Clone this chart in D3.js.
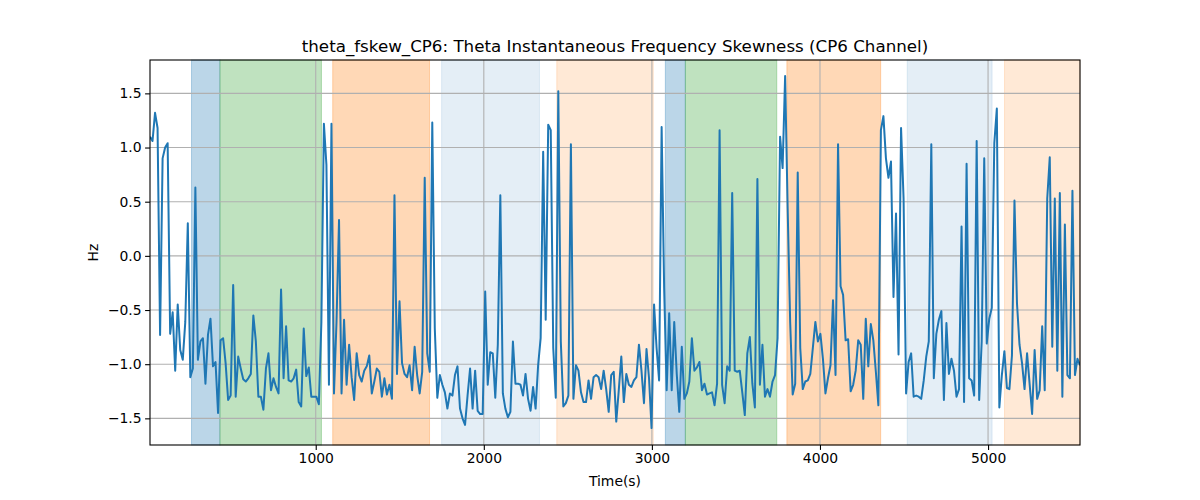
<!DOCTYPE html>
<html>
<head>
<meta charset="utf-8">
<script src="https://cdn.jsdelivr.net/npm/d3@7"></script>
<style>
  body { margin: 0; background: #fff; }
  svg { font-family: "DejaVu Sans", sans-serif; }
</style>
</head>
<body>
<svg id="chart" width="1200" height="500"></svg>
<script>
// ---- data ----
const titleText = "theta_fskew_CP6: Theta Instantaneous Frequency Skewness (CP6 Channel)";
const xLabel = "Time(s)";
const yLabel = "Hz";
const timeStart = 14;
const timeEnd = 5547;
const xTicks = [1000, 2000, 3000, 4000, 5000];
const yTicks = [-1.5, -1.0, -0.5, 0.0, 0.5, 1.0, 1.5];

const skew = [
  1.10,1.06,1.32,1.18,-0.73,0.90,1.00,1.04,-0.72,-0.52,
  -1.06,-0.45,-0.87,-0.96,-0.61,0.30,-1.12,-1.04,0.63,-0.96,
  -0.79,-0.76,-1.18,-0.73,-0.58,-1.02,-0.98,-1.45,-0.78,-0.76,
  -0.99,-1.33,-1.29,-0.27,-1.30,-0.93,-1.04,-1.14,-1.16,-1.13,
  -1.09,-0.55,-0.79,-1.30,-1.30,-1.42,-1.04,-0.90,-1.24,-1.13,
  -1.21,-1.27,-0.31,-1.13,-0.65,-1.15,-1.16,-1.13,-1.05,-1.35,
  -1.39,-0.67,-1.11,-1.03,-1.30,-1.30,-1.30,-1.37,-0.61,1.22,
  0.84,-1.19,1.22,-1.27,-0.61,0.33,
  -1.27,-0.59,-1.19,-0.82,-1.12,-1.33,-0.90,-1.10,-1.16,-1.06,
  -1.02,-0.92,-1.27,-1.16,-1.04,-1.07,-1.30,-1.13,-1.28,-1.19,
  -1.32,0.56,-1.09,-0.42,-0.99,-1.09,-1.12,-1.01,-1.24,-0.84,
  -1.10,-1.27,-1.07,0.72,-0.90,-1.07,1.23,-0.67,-1.31,-1.10,
  -1.19,-1.26,-1.41,-1.27,-1.29,-1.10,-1.02,-1.41,-1.50,-1.56,
  -1.29,-1.04,-1.41,-1.06,-1.43,-1.46,-1.46,-0.33,-1.19,-0.89,
  -0.90,-1.31,-0.82,0.56,-1.27,-1.41,-1.49,-1.44,-0.79,-1.18,
  -1.18,-1.19,
  -1.29,-1.09,-1.32,-1.43,-1.21,-1.41,-1.01,-0.76,0.96,-0.59,
  1.21,1.16,-0.85,-1.31,1.52,-0.79,-1.39,-1.36,-1.29,1.03,
  -1.32,-1.01,-1.06,-1.26,-1.35,-1.35,-1.15,-1.32,-1.12,-1.10,
  -1.12,-1.23,-1.06,-1.23,-1.44,-1.10,-1.07,-1.53,-1.24,-0.93,
  -1.35,-1.09,-1.19,-1.21,-1.15,-1.12,-0.82,-1.06,-1.36,-0.86,
  -1.13,-1.59,-0.45,-0.85,-1.15,1.19,-0.30,-1.24,-0.53,-1.24,
  -0.61,-1.09,-1.44,-0.84,-1.32,-1.27,-1.16,-0.76,-1.06,-1.03,
  -0.98,
  -1.24,-1.18,-1.28,-1.27,-1.26,-1.38,-1.18,1.16,-1.19,-1.36,
  -1.02,-1.06,0.58,-1.06,-1.07,-1.06,-1.26,-1.47,-0.90,-0.75,
  -1.18,-1.40,0.71,-1.19,-0.82,-1.30,-1.23,-1.30,-1.16,-1.10,
  -0.76,1.10,0.81,1.66,0.44,-0.61,-1.28,-1.18,0.77,-0.85,
  -1.23,-1.16,-1.15,-1.09,-0.85,-0.61,-0.79,-0.72,-0.95,-1.27,
  -1.13,-1.01,-0.41,-1.10,1.03,-0.28,-0.36,-0.78,-0.77,-1.25,
  -1.19,-1.06,-0.78,-0.82,-1.32,-0.58,-1.02,-0.63,-0.78,-1.07,
  -1.38,1.16,
  1.29,0.90,0.72,0.87,-0.38,0.39,-0.91,1.18,0.53,-1.27,
  -0.98,-0.90,-1.30,-1.29,-1.30,-1.32,-1.15,-0.93,-0.79,1.03,
  -1.13,-0.72,-0.59,-0.51,-1.33,-0.62,-1.09,-0.95,-1.06,-1.30,
  -1.23,0.27,-1.35,0.85,-1.13,-1.15,-1.29,1.06,-1.33,-0.79,
  0.90,-0.81,-0.58,-0.48,1.04,1.36,-1.40,-1.10,-0.88,-1.22,
  -1.23,-0.92,0.51,-0.44,-0.82,-0.99,-1.23,-0.90,-1.18,-1.46,
  -0.87,-1.32,-1.24,-0.65,-1.24,0.53,0.91,-0.84,0.53,-1.06,
  0.58,-1.30,0.29,-1.10,-1.13,0.60,-1.10,-0.95,-1.01
];

// shaded phases: start, end (s), colour, opacity
const bandStarts  = [261, 430, 1101, 1749, 2434, 3080, 3199, 3803, 4519, 5098];
const bandEnds    = [430, 1034, 1677, 2331, 3008, 3199, 3743, 4361, 5024, 5547];
const bandColors  = ["#1f77b4","#2ca02c","#ff7f0e","#1f77b4","#ff7f0e","#1f77b4","#2ca02c","#ff7f0e","#1f77b4","#ff7f0e"];
const bandOpacity = [0.3, 0.3, 0.3, 0.12, 0.17, 0.3, 0.3, 0.3, 0.12, 0.17];

// ---- layout ----
const svg = d3.select("#chart");
const W = 1200, H = 500;
const m = { left: 150, top: 60, right: 120, bottom: 55 };
const iw = W - m.left - m.right, ih = H - m.top - m.bottom;

const step = (timeEnd - timeStart) / (skew.length - 1);
const data = skew.map((v, i) => ({ t: timeStart + i * step, v }));

const x = d3.scaleLinear().domain([timeStart, timeEnd]).range([0, iw]);
const y = d3.scaleLinear().domain([-1.746, 1.808]).range([ih, 0]);

const g = svg.append("g").attr("transform", `translate(${m.left},${m.top})`);

svg.append("defs").append("clipPath").attr("id", "clip")
  .append("rect").attr("width", iw).attr("height", ih);

// bands
const bands = bandStarts.map((s, i) => ({ s, e: bandEnds[i], c: bandColors[i], o: bandOpacity[i] }));
g.append("g").selectAll("rect").data(bands).join("rect")
  .attr("x", d => x(d.s)).attr("width", d => x(d.e) - x(d.s))
  .attr("y", 0).attr("height", ih)
  .attr("fill", d => d.c).attr("fill-opacity", d => d.o)
  .attr("stroke", d => d.c).attr("stroke-opacity", d => d.o).attr("stroke-width", 1);

// grid
g.append("g").selectAll("line").data(xTicks).join("line")
  .attr("x1", d => x(d)).attr("x2", d => x(d)).attr("y1", 0).attr("y2", ih)
  .attr("stroke", "#b0b0b0").attr("stroke-width", 1.1);
g.append("g").selectAll("line").data(yTicks).join("line")
  .attr("y1", d => y(d)).attr("y2", d => y(d)).attr("x1", 0).attr("x2", iw)
  .attr("stroke", "#b0b0b0").attr("stroke-width", 1.1);

// line
g.append("path").datum(data)
  .attr("clip-path", "url(#clip)")
  .attr("fill", "none").attr("stroke", "#1f77b4").attr("stroke-width", 2)
  .attr("stroke-linejoin", "round")
  .attr("d", d3.line().x(d => x(d.t)).y(d => y(d.v)));

// axes
const fmtY = d3.format(".1f");
const xAxis = g.append("g").attr("transform", `translate(0,${ih})`)
  .call(d3.axisBottom(x).tickValues(xTicks).tickFormat(d3.format("d")).tickSize(4.9).tickPadding(3.5));
const yAxis = g.append("g")
  .call(d3.axisLeft(y).tickValues(yTicks).tickFormat(fmtY).tickSize(4.9).tickPadding(3.5));
[xAxis, yAxis].forEach(a => {
  a.select(".domain").remove();
  a.selectAll("line").attr("stroke", "#000").attr("stroke-width", 1.1);
  a.selectAll("text").attr("font-size", 13.9).attr("fill", "#000")
    .attr("font-family", "DejaVu Sans, sans-serif");
});

// frame
g.append("rect").attr("width", iw).attr("height", ih)
  .attr("fill", "none").attr("stroke", "#000").attr("stroke-width", 1.1);

// labels
svg.append("text").attr("x", m.left + iw / 2).attr("y", 52)
  .attr("text-anchor", "middle").attr("font-size", 16.7).text(titleText);
svg.append("text").attr("x", m.left + iw / 2).attr("y", 486)
  .attr("text-anchor", "middle").attr("font-size", 13.9).text(xLabel);
svg.append("text").attr("transform", `translate(98,${m.top + ih / 2}) rotate(-90)`)
  .attr("text-anchor", "middle").attr("font-size", 13.9).text(yLabel);
</script>
</body>
</html>
